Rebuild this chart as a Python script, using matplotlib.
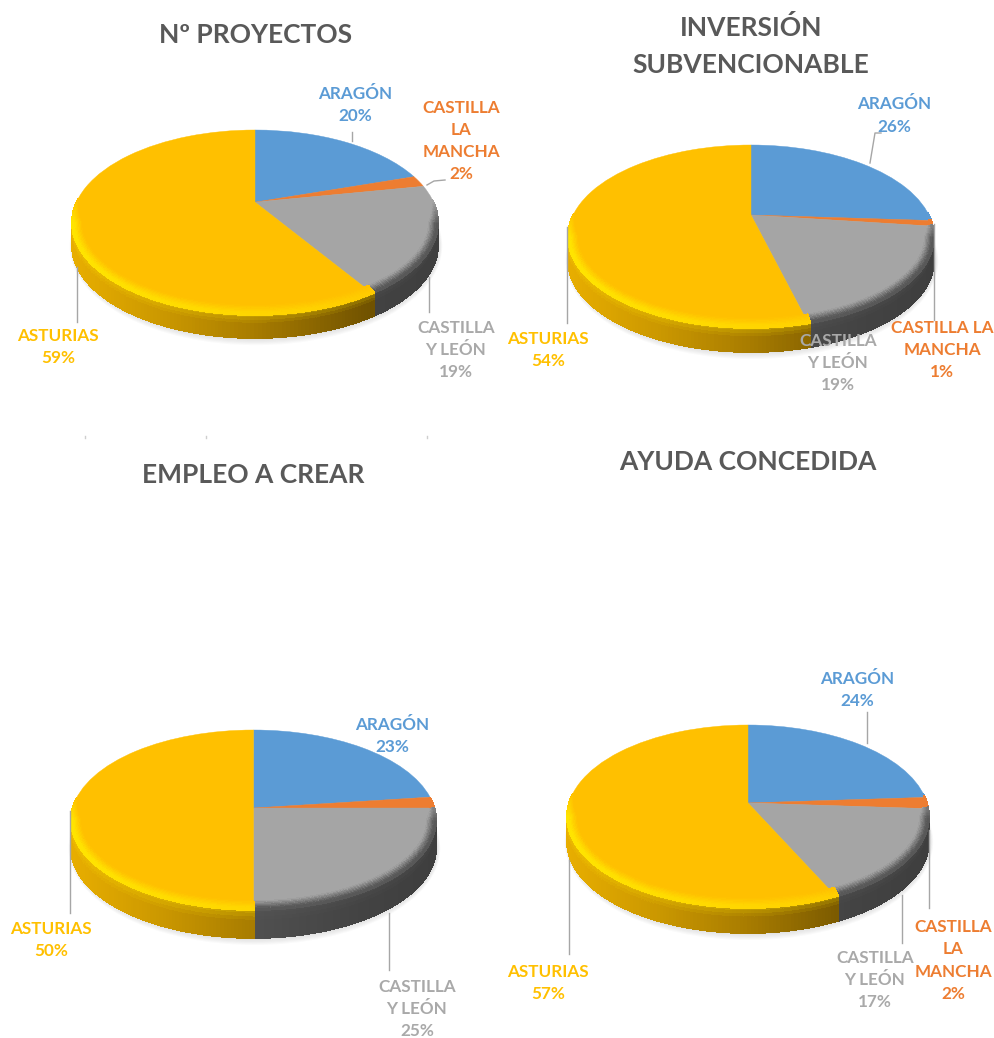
import numpy as np
import matplotlib
import matplotlib.pyplot as plt
from matplotlib.collections import PolyCollection
from matplotlib.colors import to_rgb
from matplotlib.lines import Line2D
from matplotlib.patches import Ellipse
from matplotlib.transforms import Transform

matplotlib.use("agg")

plt.rcParams["font.family"] = ["Lato", "DejaVu Sans"]

W, H = 994, 1038

pct_proyectos = [20, 2, 19, 59]
pct_inversion = [26, 1, 19, 54]
pct_empleo = [23, 2, 25, 50]
pct_ayuda = [24, 2, 17, 57]

face_colors = ["#5B9BD5", "#ED7D31", "#A5A5A5", "#FFC000"]
label_colors = ["#5B9BD5", "#ED7D31", "#A9A9A9", "#FFC000"]

# pixel layout of each chart: title, pie box, then labels and leader lines
charts = [
    {
        "title": "Nº PROYECTOS", "title_xy": (256, 35), "values": pct_proyectos,
        "cx": 255, "cy": 222.5, "rx": 183, "ry": 92.5, "tilt": 0.22, "depth": 23,
        "names": ["ARAGÓN", "CASTILLA\nLA\nMANCHA", "CASTILLA\nY LEÓN", "ASTURIAS"],
        "label_xy": [(355, 105), (461, 141), (456, 350), (58, 347)],
        "leaders": [[(352, 132), (352, 141)], [(427, 185), (434, 181), (445, 180)],
                    [(429, 277), (429, 312)], [(77, 267), (77, 322)]],
    },
    {
        "title": "INVERSIÓN\nSUBVENCIONABLE", "title_xy": (751, 46), "values": pct_inversion,
        "cx": 751, "cy": 236.5, "rx": 183, "ry": 91.5, "tilt": 0.235, "depth": 24,
        "names": ["ARAGÓN", "CASTILLA LA\nMANCHA", "CASTILLA\nY LEÓN", "ASTURIAS"],
        "label_xy": [(894, 115.5), (942, 350), (838, 363), (548, 350)],
        "leaders": [[(870, 163), (875, 133), (881, 133)], [(934, 224), (934, 320)],
                    [(567, 227), (567, 323)]],
    },
    {
        "title": "EMPLEO A CREAR", "title_xy": (253, 475), "values": pct_empleo,
        "cx": 253.5, "cy": 820, "rx": 182.5, "ry": 90, "tilt": 0.133, "depth": 28,
        "names": ["ARAGÓN", None, "CASTILLA\nY LEÓN", "ASTURIAS"],
        "label_xy": [(392, 736), None, (417, 1009), (51, 940)],
        "leaders": [[(389, 913), (389, 970)], [(70, 811), (70, 913)]],
    },
    {
        "title": "AYUDA CONCEDIDA", "title_xy": (748, 462), "values": pct_ayuda,
        "cx": 748, "cy": 816.5, "rx": 181, "ry": 91.5, "tilt": 0.148, "depth": 25,
        "names": ["ARAGÓN", "CASTILLA\nLA\nMANCHA", "CASTILLA\nY LEÓN", "ASTURIAS"],
        "label_xy": [(857, 690), (953, 960.5), (875, 980), (548, 983)],
        "leaders": [[(867, 712), (867, 743)], [(929, 830), (929, 908)],
                    [(902, 895), (902, 943)], [(569, 860), (569, 954)]],
    },
]

specks_x = [85, 206, 427]
specks_y = [437, 437, 437]

# wall colour from left to right of the pie, per slice
wall_x = [-1, -0.5, 0, 0.6, 1]
wall_stops = [
    ["#3F76A8"] * 5,
    ["#B35C1F"] * 5,
    ["#5A5A5A", "#555555", "#505050", "#434343", "#3E3E3E"],
    ["#E8AE00", "#CB9800", "#A87C00", "#735400", "#5A4300"],
]
rim_hi = ["#5B9BD5", "#ED7D31", "#585858", "#FFE400"]


class Tilt(Transform):
    # keeps the unit circle a circle but moves the pie centre up, like the 3D view
    input_dims = 2
    output_dims = 2
    is_separable = False
    has_inverse = False

    def __init__(self, c):
        super().__init__()
        self.c = c

    def transform_non_affine(self, values):
        x, y = values[:, 0], values[:, 1]
        d = 1 + self.c * y
        return np.column_stack((np.sqrt(1 - self.c**2) * x / d, (y + self.c) / d))


def px(x, y):
    return x / W, 1 - y / H


def mix(a, b, t):
    return np.asarray(a) * (1 - t) + np.asarray(b) * t


def wall_color(i, x):
    stops = np.array([to_rgb(c) for c in wall_stops[i]])
    return np.array([np.interp(x, wall_x, stops[:, k]) for k in range(3)])


def inset(x, y, w, s):
    return x * (1 - 0.05 * w * s), y * (1 - 0.10 * w * s)


def draw_side(ax, i, theta1, theta2, tilt, depth):
    # outer wall and the soft bevel of one slice
    theta = np.radians(np.arange(theta1, theta2 + 1, 1.0))
    theta = np.append(theta, np.radians(theta2))
    pts = tilt.transform_non_affine(np.column_stack((np.cos(theta), np.sin(theta))))
    wall_rows = np.linspace(0, 1, 9)
    bevel_rows = np.linspace(0, 1, 8)
    quads, colors = [], []
    bquads, bcolors = [], []
    face = np.array(to_rgb(face_colors[i]))
    hi = np.array(to_rgb(rim_hi[i]))
    for (x0, y0), (x1, y1) in zip(pts[:-1], pts[1:]):
        xm, ym = (x0 + x1) / 2, (y0 + y1) / 2
        base = wall_color(i, xm)
        if ym <= 0.02:
            for t0, t1 in zip(wall_rows[:-1], wall_rows[1:]):
                quads.append([(x0, y0 - depth * t0), (x1, y1 - depth * t0),
                              (x1, y1 - depth * t1), (x0, y0 - depth * t1)])
                lift = max(0, 1 - t0 / 0.35)
                colors.append(np.clip(mix(base, hi, 0.3 * lift), 0, 1))
        if ym <= 0.25:
            w0 = np.clip((0.25 - y0) / 0.25, 0, 1)
            w1 = np.clip((0.25 - y1) / 0.25, 0, 1)
            strength = 1.0
            if i == 3:
                strength = np.interp(xm, [-1, -0.4, 0.3, 0.95], [1.0, 0.75, 0.5, 0.1])
            for s0, s1 in zip(bevel_rows[:-1], bevel_rows[1:]):
                # s = 1 on the rim, 0 on the inner edge of the bevel
                a = 1 - s0
                b = 1 - s1
                bquads.append([inset(x0, y0, w0, a), inset(x1, y1, w1, a),
                               inset(x1, y1, w1, b), inset(x0, y0, w0, b)])
                amount = min(1, (s0 + s1) / 2 / 0.85) * strength
                bcolors.append(mix(face, hi, amount * min(w0, w1)))
    if quads:
        ax.add_collection(PolyCollection(quads, facecolors=colors, edgecolors=colors,
                                         linewidths=0.6, antialiaseds=False, zorder=2,
                                         clip_on=False))
    if bquads:
        ax.add_collection(PolyCollection(bquads, facecolors=bcolors, edgecolors=bcolors,
                                         linewidths=0.6, antialiaseds=False, zorder=4,
                                         clip_on=False))


def draw_chart(fig, chart):
    cx, cy, rx, ry = chart["cx"], chart["cy"], chart["rx"], chart["ry"]
    left, top = px(cx - rx, cy - ry)
    ax = fig.add_axes([left, top - 2 * ry / H, 2 * rx / W, 2 * ry / H])
    wedges, _ = ax.pie(chart["values"], colors=face_colors, startangle=90,
                       counterclock=False, radius=1)
    ax.set_aspect("auto")
    ax.set_xlim(-1, 1)
    ax.set_ylim(-1, 1)
    ax.axis("off")

    tilt = Tilt(chart["tilt"])
    depth = chart["depth"] / ry
    for k in range(7):
        grow = k * 0.006
        ax.add_patch(Ellipse((0.005, -depth - 0.005), 2 + grow, 2 + grow * 4, color="#7F7F7F",
                             alpha=0.035, lw=0, zorder=1, clip_on=False))
    for i, wedge in enumerate(wedges):
        wedge.set_transform(tilt + ax.transData)
        wedge.set_clip_on(False)
        wedge.set_zorder(3)
        wedge.set_edgecolor(face_colors[i])
        wedge.set_linewidth(0.3)
        draw_side(ax, i, wedge.theta1, wedge.theta2, tilt, depth)

    fig.text(*px(*chart["title_xy"]), chart["title"], ha="center", va="center",
             fontsize=19, fontweight="bold", color="#595959", linespacing=1.63)
    for name, pct, xy, color in zip(chart["names"], chart["values"], chart["label_xy"], label_colors):
        if name is None:
            continue
        fig.text(*px(*xy), f"{name}\n{pct}%", ha="center", va="center", fontsize=12.3,
                 fontweight="bold", color=color, linespacing=1.47)
    for line in chart["leaders"]:
        xs, ys = zip(*[px(*p) for p in line])
        fig.add_artist(Line2D(xs, ys, color="#A6A6A6", lw=1, zorder=2.5))


fig = plt.figure(figsize=(W / 100, H / 100), dpi=100, facecolor="white")
for chart in charts:
    draw_chart(fig, chart)
for x, y in zip(specks_x, specks_y):
    xs, ys = px(x, y)
    fig.add_artist(Line2D([xs, xs], [ys - 1.5 / H, ys + 1.5 / H], color="#CFCFCF", lw=1))

plt.savefig("out.png", dpi=100)
